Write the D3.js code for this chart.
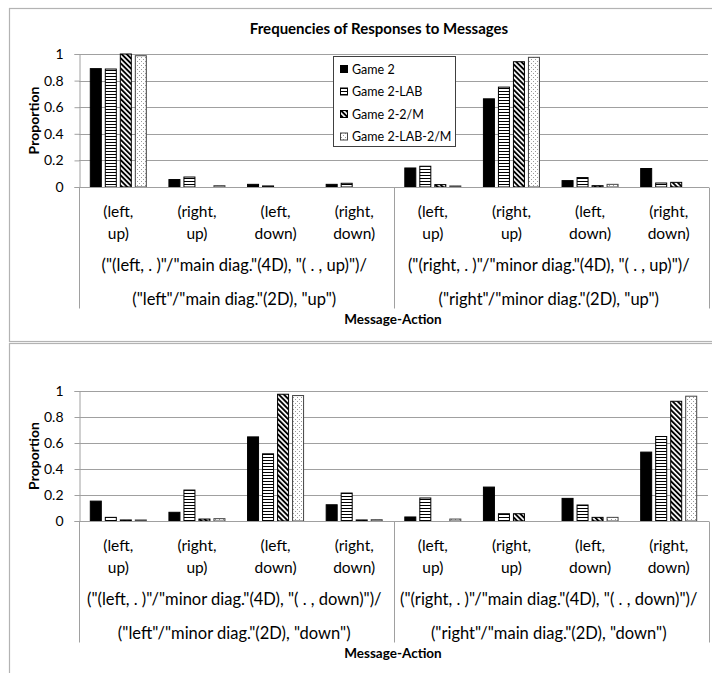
<!DOCTYPE html>
<html>
<head>
<meta charset="utf-8">
<script src="https://cdn.jsdelivr.net/npm/d3@7"></script>
<style>
  body { margin: 0; background: #fff; }
  svg { display: block; }
  text { font-family: Lato, "Open Sans", sans-serif; fill: #000; }
</style>
</head>
<body>
<svg id="chart" width="712" height="673"></svg>
<script>
// ---- data ----
const seriesNames = ["Game 2", "Game 2-LAB", "Game 2-2/M", "Game 2-LAB-2/M"];
const actionLabels = ["(left, up)", "(right, up)", "(left, down)", "(right, down)"];
const yTicks = [0, 0.2, 0.4, 0.6, 0.8, 1];

const topGroupLabels = [
  ['("(left, . )"/"main diag."(4D), "( . , up)")/', '("left"/"main diag."(2D), "up")'],
  ['("(right, . )"/"minor diag."(4D), "( . , up)")/', '("right"/"minor diag."(2D), "up")']
];
const bottomGroupLabels = [
  ['("(left, . )"/"minor diag."(4D), "( . , down)")/', '("left"/"minor diag."(2D), "down")'],
  ['("(right, . )"/"main diag."(4D), "( . , down)")/', '("right"/"main diag."(2D), "down")']
];

const topGame2     = [0.890, 0.056, 0.020, 0.020, 0.143, 0.663, 0.048, 0.139];
const topGame2Lab  = [0.887, 0.075, 0.008, 0.028, 0.156, 0.751, 0.071, 0.030];
const topGame2M    = [1.000, 0.000, 0.000, 0.000, 0.018, 0.942, 0.010, 0.035];
const topGame2LabM = [0.987, 0.010, 0.000, 0.000, 0.008, 0.975, 0.020, 0.000];

const bottomGame2     = [0.153, 0.067, 0.647, 0.125, 0.031, 0.261, 0.174, 0.530];
const bottomGame2Lab  = [0.028, 0.238, 0.517, 0.215, 0.177, 0.056, 0.123, 0.650];
const bottomGame2M    = [0.008, 0.015, 0.975, 0.008, 0.000, 0.056, 0.028, 0.921];
const bottomGame2LabM = [0.008, 0.018, 0.965, 0.010, 0.015, 0.000, 0.028, 0.960];

// ---- drawing ----
const svg = d3.select("#chart");
const defs = svg.append("defs");

// horizontal stripes
const pH = defs.append("pattern").attr("id", "pat-horiz")
  .attr("patternUnits", "userSpaceOnUse").attr("width", 4).attr("height", 3);
pH.append("rect").attr("width", 4).attr("height", 3).attr("fill", "#fff");
pH.append("rect").attr("y", 1).attr("width", 4).attr("height", 1).attr("fill", "#000");

// wide downward diagonal
const pD = defs.append("pattern").attr("id", "pat-diag")
  .attr("patternUnits", "userSpaceOnUse").attr("width", 3.6).attr("height", 10)
  .attr("patternTransform", "rotate(-45)");
pD.append("rect").attr("width", 3.6).attr("height", 10).attr("fill", "#fff");
pD.append("rect").attr("width", 1.9).attr("height", 10).attr("fill", "#000");

// sparse dots
const pS = defs.append("pattern").attr("id", "pat-dots")
  .attr("patternUnits", "userSpaceOnUse").attr("width", 4).attr("height", 4);
pS.append("rect").attr("width", 4).attr("height", 4).attr("fill", "#fff");
pS.append("rect").attr("x", 1).attr("y", 1).attr("width", 1).attr("height", 1).attr("fill", "#9a9a9a");
pS.append("rect").attr("x", 3).attr("y", 3).attr("width", 1).attr("height", 1).attr("fill", "#9a9a9a");

const seriesFill = ["#000", "url(#pat-horiz)", "url(#pat-diag)", "url(#pat-dots)"];
const seriesStroke = ["#000", "#000", "#000", "#444"];

// panel frames
svg.append("rect").attr("x", 9.5).attr("y", 8.5).attr("width", 720).attr("height", 333)
  .attr("fill", "none").attr("stroke", "#b3b3b3").attr("stroke-width", 1.2);
svg.append("rect").attr("x", 9.5).attr("y", 343.5).attr("width", 720).attr("height", 340)
  .attr("fill", "none").attr("stroke", "#b3b3b3").attr("stroke-width", 1.2);

svg.append("text").attr("x", 379).attr("y", 34)
  .attr("text-anchor", "middle").attr("font-weight", "bold").attr("font-size", 15)
  .text("Frequencies of Responses to Messages");

function drawChart(opts) {
  const { top, bottom, seriesValues, groupLabels } = opts;
  const left = 79, right = 708;
  const g = svg.append("g");

  const cats = d3.range(8);
  const x0 = d3.scaleBand().domain(cats).range([left, right]);
  const x1 = d3.scaleBand().domain(d3.range(4)).range([0, x0.bandwidth()])
    .paddingInner(0.2).paddingOuter(0.72);
  const y = d3.scaleLinear().domain([0, 1]).range([bottom, top]);

  // gridlines
  g.append("g").selectAll("line").data(yTicks.filter(d => d > 0)).join("line")
    .attr("x1", left).attr("x2", right)
    .attr("y1", d => Math.round(y(d)) + 0.5).attr("y2", d => Math.round(y(d)) + 0.5)
    .attr("stroke", "#a0a0a0").attr("stroke-width", 1);

  // y axis
  const ya = g.append("g").attr("transform", `translate(${left + 0.5},0)`)
    .call(d3.axisLeft(y).tickValues(yTicks).tickSize(5).tickPadding(11)
      .tickFormat(d => String(+d.toFixed(1))));
  ya.select(".domain").attr("stroke", "#a0a0a0");
  ya.selectAll(".tick line").attr("stroke", "#a0a0a0");
  ya.selectAll(".tick text").attr("font-size", 14).attr("font-family", "Lato, sans-serif").attr("fill", "#000");

  // bars
  seriesValues.forEach((vals, si) => {
    g.append("g").selectAll("rect").data(vals.map((v, i) => ({ v, i })).filter(d => d.v > 0))
      .join("rect")
      .attr("x", d => x0(d.i) + x1(si) + 0.5)
      .attr("y", d => y(d.v))
      .attr("width", x1.bandwidth() - 1)
      .attr("height", d => y(0) - y(d.v))
      .attr("fill", seriesFill[si])
      .attr("stroke", seriesStroke[si]).attr("stroke-width", 1);
  });

  // category axis line and dividers
  const y0 = Math.round(y(0)) + 0.5;
  g.append("line").attr("x1", left).attr("x2", right + 1).attr("y1", y0).attr("y2", y0)
    .attr("stroke", "#a0a0a0");
  [left, (left + right) / 2, right + 1].forEach(xv => {
    g.append("line").attr("x1", Math.round(xv) + 0.5).attr("x2", Math.round(xv) + 0.5)
      .attr("y1", y0).attr("y2", y0 + 121).attr("stroke", "#a0a0a0");
  });

  // inner category labels
  cats.forEach(i => {
    const lines = actionLabels[i % 4].split(" ");
    const cx = x0(i) + x0.bandwidth() / 2;
    lines.forEach((ln, k) => {
      g.append("text").attr("x", cx).attr("y", y0 + 29 + k * 22)
        .attr("text-anchor", "middle").attr("font-size", 15.5).text(ln);
    });
  });

  // outer group labels
  groupLabels.forEach((lbl, gi) => {
    const cx = left + (right - left) * (gi * 2 + 1) / 4 - 2;
    lbl.forEach((ln, k) => {
      g.append("text").attr("x", cx).attr("y", y0 + 83 + k * 34)
        .attr("text-anchor", "middle").attr("font-size", 16.5).text(ln);
    });
  });

  g.append("text").attr("x", 393).attr("y", y0 + 136)
    .attr("text-anchor", "middle").attr("font-weight", "bold").attr("font-size", 13.5)
    .text("Message-Action");

  g.append("text").attr("transform", `translate(39,${(top + bottom) / 2}) rotate(-90)`)
    .attr("text-anchor", "middle").attr("font-weight", "bold").attr("font-size", 14)
    .text("Proportion");
}

drawChart({
  top: 54, bottom: 187,
  seriesValues: [topGame2, topGame2Lab, topGame2M, topGame2LabM],
  groupLabels: topGroupLabels
});
drawChart({
  top: 391, bottom: 521,
  seriesValues: [bottomGame2, bottomGame2Lab, bottomGame2M, bottomGame2LabM],
  groupLabels: bottomGroupLabels
});

// legend
const legend = svg.append("g");
legend.append("rect").attr("x", 333.5).attr("y", 56.5).attr("width", 122).attr("height", 90)
  .attr("fill", "#fff").attr("stroke", "#404040");
seriesNames.forEach((name, i) => {
  const cy = 69 + i * 22.5;
  legend.append("rect").attr("x", 340.5).attr("y", cy - 3.5).attr("width", 7).attr("height", 7)
    .attr("fill", seriesFill[i]).attr("stroke", seriesStroke[i]);
  legend.append("text").attr("x", 352).attr("y", cy + 4.5).attr("font-size", 12.5).text(name);
});
</script>
</body>
</html>
